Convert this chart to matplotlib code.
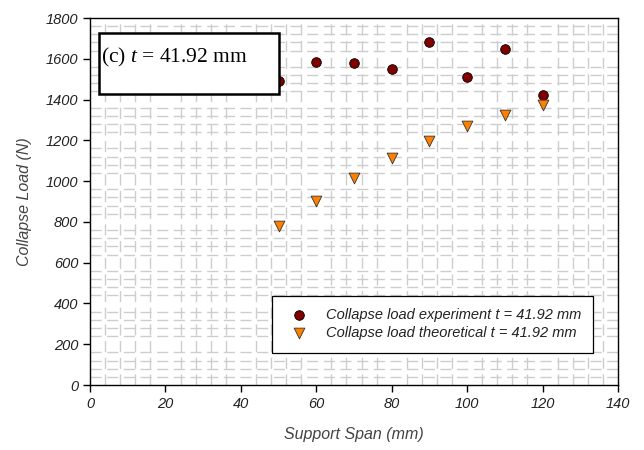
import matplotlib.pyplot as plt
from matplotlib.patches import Rectangle
from matplotlib.ticker import MultipleLocator

span = [50, 60, 70, 80, 90, 100, 110, 120]
load_experiment = [1490, 1585, 1578, 1550, 1680, 1511, 1648, 1422]
load_theoretical = [778, 902, 1017, 1115, 1197, 1270, 1326, 1373]

plt.rcParams["mathtext.fontset"] = "custom"
plt.rcParams["mathtext.rm"] = "Liberation Serif"
plt.rcParams["mathtext.it"] = "Liberation Serif:italic"

fig = plt.figure(figsize=(6.44, 4.5), dpi=100)
ax = fig.add_axes([0.1398, 0.1444, 0.8198, 0.8156])

sans = ["Liberation Sans", "DejaVu Sans"]

# dense light-grey minor grid
ax.xaxis.set_minor_locator(MultipleLocator(4))
ax.yaxis.set_minor_locator(MultipleLocator(40))
ax.grid(which="minor", color="#cdcdcd", linewidth=1.0, linestyle=(0, (8, 4)))
ax.set_axisbelow(True)
ax.tick_params(which="minor", length=0)

ax.scatter(span, load_experiment, s=48, marker="o", color="#800000",
           edgecolors="black", linewidths=0.6, zorder=3,
           label="Collapse load experiment t = 41.92 mm")
ax.scatter(span, load_theoretical, s=60, marker="v", color="#ff8000",
           edgecolors="#333333", linewidths=0.6, zorder=3,
           label="Collapse load theoretical t = 41.92 mm")

ax.set_xlim(0, 140)
ax.set_ylim(0, 1800)
ax.set_xticks(range(0, 141, 20))
ax.set_yticks(range(0, 1801, 200))
ax.tick_params(which="major", direction="out", length=5, width=1, colors="black")
for lab in ax.get_xticklabels() + ax.get_yticklabels():
    lab.set_family(sans)
    lab.set_style("italic")
    lab.set_fontsize(10.5)
    lab.set_color("#222222")
for s in ax.spines.values():
    s.set_linewidth(1.0)

ax.set_xlabel("Support Span (mm)", family=sans, style="italic", fontsize=11.5,
              color="#444444", labelpad=12)
ax.set_ylabel("Collapse Load (N)", family=sans, style="italic", fontsize=11.5,
              color="#444444", labelpad=10)

# panel label box
ax.add_patch(Rectangle((0.017, 0.793), 0.341, 0.166, transform=ax.transAxes,
                       facecolor="white", edgecolor="black", linewidth=1.8,
                       zorder=5))
ax.text(0.020, 0.893, "(c) $t$ = 41.92 mm", transform=ax.transAxes,
        family=["Liberation Serif", "DejaVu Serif"], fontsize=15.5, va="center",
        ha="left", zorder=6)

leg = ax.legend(loc="lower right", bbox_to_anchor=(0.953, 0.088), fancybox=False,
                edgecolor="black", framealpha=1, borderpad=0.85, handletextpad=0.8,
                labelspacing=0.3, borderaxespad=0,
                prop=dict(family=sans, style="italic", size=10.5))
leg.get_frame().set_linewidth(0.9)
for t in leg.get_texts():
    t.set_color("#222222")

fig.savefig("out.png", dpi=100)
